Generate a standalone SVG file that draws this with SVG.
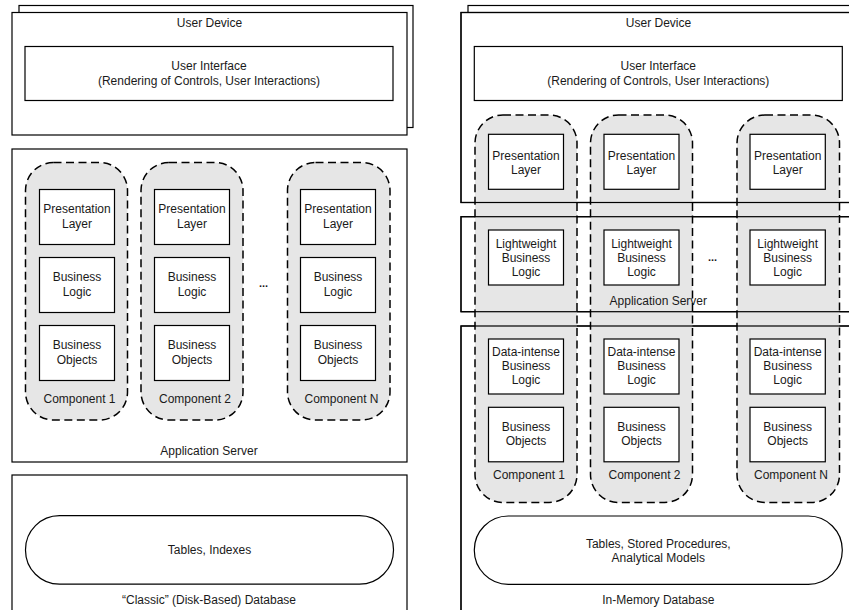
<svg xmlns="http://www.w3.org/2000/svg" width="849" height="610" viewBox="0 0 849 610">
  <style>
    .box { fill: #ffffff; stroke: #000000; stroke-width: 1.2; }
    .edge { fill: none; stroke: #000000; stroke-width: 1.2; }
    .comp { fill: #e6e6e6; stroke: #000000; stroke-width: 1.5; stroke-dasharray: 8 4.5; }
    .pill { fill: #ffffff; stroke: #000000; stroke-width: 1.2; }
    text { font-family: "Liberation Sans", Arial, sans-serif; font-size: 12px; fill: #1a1a1a; text-anchor: middle; }
    .dots { font-weight: bold; font-size: 11px; }
  </style>

  <!-- ===================== Left: classic architecture ===================== -->
  <g id="left-user-device">
    <rect class="box" x="19" y="5.5" width="394" height="122"/>
    <rect class="box" x="12" y="12.5" width="395" height="122.5"/>
    <text x="209.5" y="27">User Device</text>
  </g>
  <g id="left-user-interface">
    <rect class="box" x="25" y="46.5" width="368" height="54"/>
    <text x="209" y="70">User Interface</text>
    <text x="209" y="85">(Rendering of Controls, User Interactions)</text>
  </g>

  <g id="left-app-server">
    <rect class="box" x="12" y="149" width="395" height="313"/>
    <text x="209" y="455">Application Server</text>
  </g>

  <g id="left-component-1">
    <rect class="comp" x="25.5" y="162.5" width="102" height="257.5" rx="28" ry="28"/>
    <text x="79.5" y="403">Component 1</text>
  </g>
  <g id="left-component-2">
    <rect class="comp" x="141" y="162.5" width="102" height="257.5" rx="28" ry="28"/>
    <text x="195" y="403">Component 2</text>
  </g>
  <g id="left-component-n">
    <rect class="comp" x="287.5" y="162.5" width="102.5" height="257.5" rx="28" ry="28"/>
    <text x="341.5" y="403">Component N</text>
  </g>

  <!-- component 1 layers -->
  <g id="left-c1-presentation">
    <rect class="box" x="39.5" y="189.5" width="75" height="55"/>
    <text x="77" y="213">Presentation</text>
    <text x="77" y="228">Layer</text>
  </g>
  <g id="left-c1-logic">
    <rect class="box" x="39.5" y="257.5" width="75" height="55"/>
    <text x="77" y="281">Business</text>
    <text x="77" y="296">Logic</text>
  </g>
  <g id="left-c1-objects">
    <rect class="box" x="39.5" y="325.5" width="75" height="55"/>
    <text x="77" y="349">Business</text>
    <text x="77" y="364">Objects</text>
  </g>

  <!-- component 2 layers -->
  <g id="left-c2-presentation">
    <rect class="box" x="154.5" y="189.5" width="75" height="55"/>
    <text x="192" y="213">Presentation</text>
    <text x="192" y="228">Layer</text>
  </g>
  <g id="left-c2-logic">
    <rect class="box" x="154.5" y="257.5" width="75" height="55"/>
    <text x="192" y="281">Business</text>
    <text x="192" y="296">Logic</text>
  </g>
  <g id="left-c2-objects">
    <rect class="box" x="154.5" y="325.5" width="75" height="55"/>
    <text x="192" y="349">Business</text>
    <text x="192" y="364">Objects</text>
  </g>

  <!-- component N layers -->
  <g id="left-cn-presentation">
    <rect class="box" x="300.5" y="189.5" width="75" height="55"/>
    <text x="338" y="213">Presentation</text>
    <text x="338" y="228">Layer</text>
  </g>
  <g id="left-cn-logic">
    <rect class="box" x="300.5" y="257.5" width="75" height="55"/>
    <text x="338" y="281">Business</text>
    <text x="338" y="296">Logic</text>
  </g>
  <g id="left-cn-objects">
    <rect class="box" x="300.5" y="325.5" width="75" height="55"/>
    <text x="338" y="349">Business</text>
    <text x="338" y="364">Objects</text>
  </g>
  <text class="dots" x="263.5" y="287">...</text>

  <g id="left-database">
    <rect class="box" x="12" y="475" width="395" height="150"/>
    <text x="209" y="604">“Classic” (Disk-Based) Database</text>
  </g>
  <g id="left-tables">
    <rect class="pill" x="25.5" y="515.7" width="368" height="68.5" rx="34" ry="34"/>
    <text x="209.5" y="554">Tables, Indexes</text>
  </g>

  <!-- ===================== Right: in-memory architecture ===================== -->
  <g id="right-user-device">
    <rect class="box" x="468" y="5.5" width="420" height="190"/>
    <rect class="box" x="461" y="12.5" width="420" height="190"/>
    <text x="658.5" y="27">User Device</text>
  </g>
  <g id="right-user-interface">
    <rect class="box" x="474.3" y="46.5" width="368" height="54"/>
    <text x="658.3" y="70">User Interface</text>
    <text x="658.3" y="85">(Rendering of Controls, User Interactions)</text>
  </g>
  <g id="right-app-server">
    <rect class="box" x="461" y="216.7" width="420" height="95"/>
  </g>
  <g id="right-database">
    <rect class="box" x="461" y="326" width="420" height="300"/>
    <text x="658.3" y="604">In-Memory Database</text>
  </g>

  <!-- components span all tiers -->
  <g id="right-component-1">
    <rect class="comp" x="475" y="115" width="102" height="387.5" rx="28" ry="28"/>
    <text x="529" y="479">Component 1</text>
  </g>
  <g id="right-component-2">
    <rect class="comp" x="590.5" y="115" width="102" height="387.5" rx="28" ry="28"/>
    <text x="644.5" y="479">Component 2</text>
  </g>
  <g id="right-component-n">
    <rect class="comp" x="737" y="115" width="102.5" height="387.5" rx="28" ry="28"/>
    <text x="791" y="479">Component N</text>
  </g>

  <!-- tier borders run across the components -->
  <g id="right-tier-borders">
    <rect class="edge" x="461" y="12.5" width="420" height="190"/>
    <rect class="edge" x="461" y="216.7" width="420" height="95"/>
    <rect class="edge" x="461" y="326" width="420" height="300"/>
  </g>
  <text x="658.3" y="305">Application Server</text>
  <text class="dots" x="712.5" y="260.5">...</text>

  <!-- component 1 layers -->
  <g id="right-c1-presentation">
    <rect class="box" x="488.5" y="134.3" width="75" height="55"/>
    <text x="526" y="159.5">Presentation</text>
    <text x="526" y="173.5">Layer</text>
  </g>
  <g id="right-c1-light-logic">
    <rect class="box" x="488.5" y="230" width="75" height="55"/>
    <text x="526" y="247.5">Lightweight</text>
    <text x="526" y="261.5">Business</text>
    <text x="526" y="275.5">Logic</text>
  </g>
  <g id="right-c1-data-logic">
    <rect class="box" x="488.5" y="339" width="75" height="55"/>
    <text x="526" y="356">Data-intense</text>
    <text x="526" y="370">Business</text>
    <text x="526" y="384">Logic</text>
  </g>
  <g id="right-c1-objects">
    <rect class="box" x="488.5" y="407.3" width="75" height="54.5"/>
    <text x="526" y="431">Business</text>
    <text x="526" y="445">Objects</text>
  </g>

  <!-- component 2 layers -->
  <g id="right-c2-presentation">
    <rect class="box" x="604" y="134.3" width="75" height="55"/>
    <text x="641.5" y="159.5">Presentation</text>
    <text x="641.5" y="173.5">Layer</text>
  </g>
  <g id="right-c2-light-logic">
    <rect class="box" x="604" y="230" width="75" height="55"/>
    <text x="641.5" y="247.5">Lightweight</text>
    <text x="641.5" y="261.5">Business</text>
    <text x="641.5" y="275.5">Logic</text>
  </g>
  <g id="right-c2-data-logic">
    <rect class="box" x="604" y="339" width="75" height="55"/>
    <text x="641.5" y="356">Data-intense</text>
    <text x="641.5" y="370">Business</text>
    <text x="641.5" y="384">Logic</text>
  </g>
  <g id="right-c2-objects">
    <rect class="box" x="604" y="407.3" width="75" height="54.5"/>
    <text x="641.5" y="431">Business</text>
    <text x="641.5" y="445">Objects</text>
  </g>

  <!-- component N layers -->
  <g id="right-cn-presentation">
    <rect class="box" x="750" y="134.3" width="75.3" height="55"/>
    <text x="787.7" y="159.5">Presentation</text>
    <text x="787.7" y="173.5">Layer</text>
  </g>
  <g id="right-cn-light-logic">
    <rect class="box" x="750" y="230" width="75.3" height="55"/>
    <text x="787.7" y="247.5">Lightweight</text>
    <text x="787.7" y="261.5">Business</text>
    <text x="787.7" y="275.5">Logic</text>
  </g>
  <g id="right-cn-data-logic">
    <rect class="box" x="750" y="339" width="75.3" height="55"/>
    <text x="787.7" y="356">Data-intense</text>
    <text x="787.7" y="370">Business</text>
    <text x="787.7" y="384">Logic</text>
  </g>
  <g id="right-cn-objects">
    <rect class="box" x="750" y="407.3" width="75.3" height="54.5"/>
    <text x="787.7" y="431">Business</text>
    <text x="787.7" y="445">Objects</text>
  </g>

  <g id="right-tables">
    <rect class="pill" x="474.3" y="516" width="368" height="68.3" rx="34" ry="34"/>
    <text x="658.3" y="547.5">Tables, Stored Procedures,</text>
    <text x="658.3" y="561.5">Analytical Models</text>
  </g>

  <g id="connectors"/>
</svg>
